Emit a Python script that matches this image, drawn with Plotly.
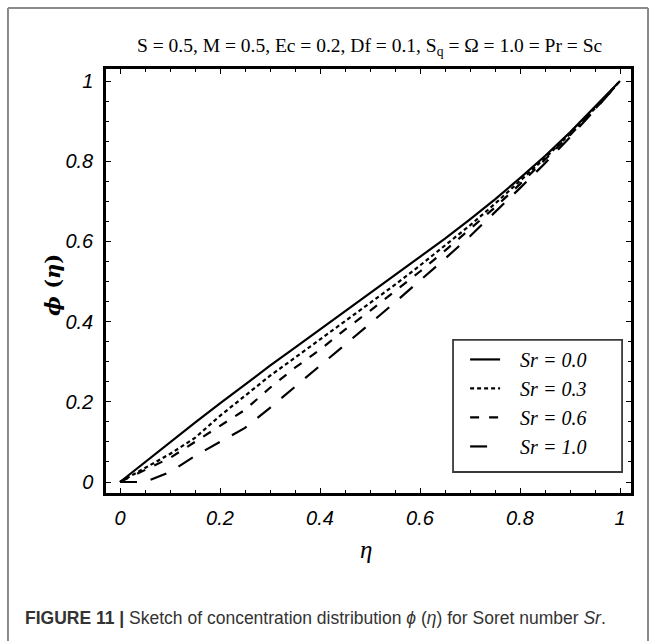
import plotly.graph_objects as go

eta = [0, 0.05, 0.1, 0.15, 0.2, 0.25, 0.3, 0.35, 0.4, 0.45, 0.5,
       0.55, 0.6, 0.65, 0.7, 0.75, 0.8, 0.85, 0.9, 0.95, 1.0]

phi_sr00 = [0, 0.05, 0.10, 0.148, 0.196, 0.244, 0.29, 0.335, 0.38, 0.425, 0.47,
            0.515, 0.56, 0.607, 0.655, 0.705, 0.758, 0.813, 0.872, 0.935, 1.0]
phi_sr03 = [0, 0.035, 0.07, 0.11, 0.165, 0.215, 0.265, 0.31, 0.355, 0.40, 0.445,
            0.492, 0.54, 0.59, 0.64, 0.694, 0.75, 0.808, 0.868, 0.932, 1.0]
phi_sr06 = [0, 0.03, 0.06, 0.10, 0.14, 0.18, 0.235, 0.285, 0.33, 0.38, 0.427,
            0.475, 0.525, 0.577, 0.63, 0.685, 0.743, 0.803, 0.865, 0.93, 1.0]
phi_sr10 = [0, 0.0, 0.025, 0.065, 0.10, 0.135, 0.185, 0.237, 0.29, 0.342, 0.395,
            0.448, 0.502, 0.557, 0.613, 0.672, 0.733, 0.795, 0.86, 0.928, 1.0]

series = [
    ("Sr = 0.0", phi_sr00, "solid"),
    ("Sr = 0.3", phi_sr03, "4px,3px"),
    ("Sr = 0.6", phi_sr06, "9px,10px"),
    ("Sr = 1.0", phi_sr10, "17px,14px"),
]

x_ticks = [0, 0.2, 0.4, 0.6, 0.8, 1]
x_ticklabels = ["0", "0.2", "0.4", "0.6", "0.8", "1"]
y_ticks = [0, 0.2, 0.4, 0.6, 0.8, 1]
y_ticklabels = ["0", "0.2", "0.4", "0.6", "0.8", "1"]

title_text = "S = 0.5, M = 0.5, Ec = 0.2, Df = 0.1, S<sub>q</sub> = \u03a9 = 1.0 = Pr = Sc"
caption_text = ("<b>FIGURE 11 |</b> Sketch of concentration distribution "
                "<i>\u03d5</i> (<i>\u03b7</i>) for Soret number <i>Sr</i>.")

fig = go.Figure()
for name, y, dash in series:
    fig.add_trace(go.Scatter(
        x=eta, y=y, mode="lines", name="\u00a0\u00a0\u00a0<i>" + name + "</i>",
        line=dict(color="black", width=2.2, dash=dash),
    ))

axis_common = dict(
    showgrid=False, zeroline=False, showline=True, linecolor="black", linewidth=2.5,
    mirror="allticks", ticks="inside", ticklen=5, tickwidth=1.2, tickcolor="black",
    tickfont=dict(family="Liberation Sans", size=20, color="black", style="italic"),
    minor=dict(ticks="inside", dtick=0.05, ticklen=3, tickwidth=1, tickcolor="black"),
)

fig.update_xaxes(range=[-0.028, 1.022], tickvals=x_ticks, ticktext=x_ticklabels,
                 ticklabelstandoff=5, **axis_common)
fig.update_yaxes(range=[-0.0274, 1.03], tickvals=y_ticks, ticktext=y_ticklabels,
                 ticklabelstandoff=6, **axis_common)

border = dict(color="#8a8a8a", width=2)
fig.update_layout(
    width=655, height=641,
    margin=dict(l=106, r=24, t=69, b=148),
    paper_bgcolor="white", plot_bgcolor="white",
    showlegend=True,
    legend=dict(
        x=0.684, y=0.361, xanchor="left", yanchor="top",
        bgcolor="rgba(0,0,0,0)", borderwidth=0,
        font=dict(family="Liberation Serif", size=20, color="black"),
        tracegroupgap=0,
    ),
    shapes=[
        dict(type="rect", xref="paper", yref="paper", x0=0.661, x1=0.983,
             y0=0.0495, y1=0.361, layer="above", fillcolor="white",
             line=dict(color="#3a3a3a", width=1.8)),
        dict(type="line", xref="paper", yref="paper", x0=-0.1867, x1=-0.1867,
             y0=-0.4, y1=1.1439, line=border),
        dict(type="line", xref="paper", yref="paper", x0=-0.1867, x1=1.0324,
             y0=1.1439, y1=1.1439, line=border),
        dict(type="line", xref="paper", yref="paper", x0=1.0324, x1=1.0324,
             y0=-0.4, y1=1.1439, line=border),
    ],
    annotations=[
        dict(text=title_text, xref="paper", yref="paper", x=0.503, y=1.052,
             xanchor="center", yanchor="middle", showarrow=False,
             font=dict(family="Liberation Serif", size=19.5, color="black")),
        dict(text="<b><i>\u03d5</i> (<i>\u03b7</i>)</b>", xref="paper", yref="paper",
             x=-0.101, y=0.4906, xanchor="center", yanchor="middle", showarrow=False,
             textangle=-90,
             font=dict(family="DejaVu Serif", size=21, color="black")),
        dict(text="<i>\u03b7</i>", xref="paper", yref="paper", x=0.495, y=-0.134,
             xanchor="center", yanchor="middle", showarrow=False,
             font=dict(family="Liberation Serif", size=25, color="black")),
        dict(text=caption_text, xref="paper", yref="paper", x=-0.158, y=-0.295,
             xanchor="left", yanchor="middle", showarrow=False,
             font=dict(family="Liberation Sans", size=17.5, color="#333333")),
    ],
)

fig.write_html("out.html")
